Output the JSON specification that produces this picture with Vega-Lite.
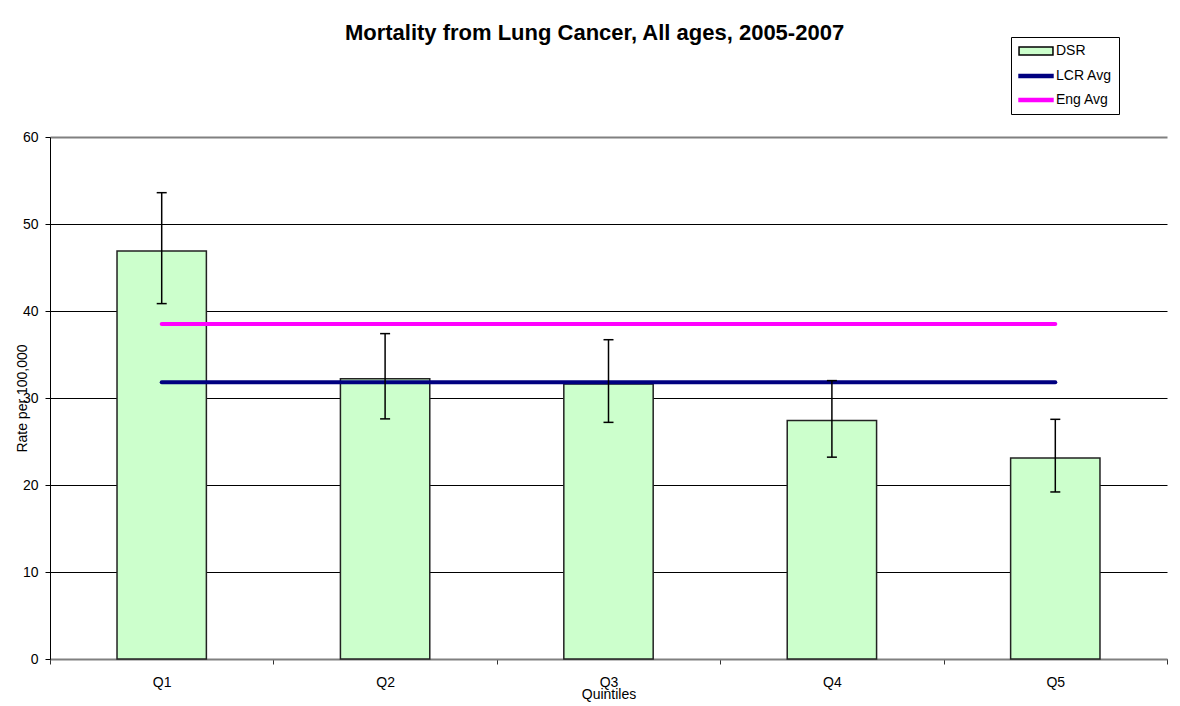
{
  "$schema": "https://vega.github.io/schema/vega-lite/v6.json",
  "width": 1117,
  "height": 522,
  "autosize": "none",
  "padding": {"left": 50, "top": 137, "right": 13, "bottom": 47},
  "background": "white",
  "title": {
    "text": "Mortality from Lung Cancer, All ages, 2005-2007",
    "font": "Liberation Sans",
    "fontSize": 22,
    "fontWeight": "bold",
    "color": "black",
    "anchor": "middle",
    "frame": "group",
    "dx": -14,
    "offset": 0,
    "dy": 25,
    "baseline": "alphabetic"
  },
  "data": {
    "values": [
      {"q": "Q1", "dsr": 46.9, "lo": 40.85, "hi": 53.6, "lcr": 31.8, "eng": 38.5},
      {"q": "Q2", "dsr": 32.2, "lo": 27.6, "hi": 37.4, "lcr": 31.8, "eng": 38.5},
      {"q": "Q3", "dsr": 31.6, "lo": 27.2, "hi": 36.7, "lcr": 31.8, "eng": 38.5},
      {"q": "Q4", "dsr": 27.4, "lo": 23.2, "hi": 32.0, "lcr": 31.8, "eng": 38.5},
      {"q": "Q5", "dsr": 23.1, "lo": 19.2, "hi": 27.55, "lcr": 31.8, "eng": 38.5}
    ]
  },
  "encoding": {
    "x": {
      "field": "q",
      "type": "nominal",
      "title": "Quintiles",
      "scale": {"paddingInner": 0, "paddingOuter": 0},
      "axis": {
        "labelAngle": 0,
        "grid": false,
        "ticks": true,
        "tickBand": "extent",
        "tickSize": 5,
        "tickColor": "#333333",
        "domainColor": "#808080",
        "domainWidth": 2,
        "labelPadding": 11,
        "titleY": 28,
        "titleBaseline": "top"
      }
    }
  },
  "layer": [
    {
      "mark": {"type": "bar", "stroke": "#222222", "strokeWidth": 1.5, "width": {"band": 0.4}},
      "encoding": {
        "y": {
          "field": "dsr",
          "type": "quantitative",
          "title": "Rate per 100,000",
          "scale": {"domain": [0, 60], "nice": false},
          "axis": {
            "values": [0, 10, 20, 30, 40, 50, 60],
            "grid": true,
            "gridColor": {"condition": {"test": "datum.value === 60", "value": "#808080"}, "value": "black"},
            "gridWidth": {"condition": {"test": "datum.value === 60", "value": 2}, "value": 1},
            "domainColor": "black",
            "tickColor": "black",
            "tickSize": 5,
            "labelPadding": 7,
            "titleX": -21,
            "titleY": 261
          }
        },
        "color": {
          "datum": "DSR",
          "scale": {"domain": ["DSR", "LCR Avg", "Eng Avg"], "range": ["#ccffcc", "#000080", "#ff00ff"]},
          "legend": {
            "orient": "none",
            "legendX": 961,
            "legendY": -100,
            "title": null,
            "strokeColor": "black",
            "fillColor": "white",
            "padding": 7,
            "labelFont": "Liberation Sans",
            "labelFontSize": 14,
            "labelColor": "black",
            "symbolSize": 128,
            "symbolOffset": 11,
            "labelOffset": 13,
            "rowPadding": 10,
            "symbolStrokeWidth": 1.5,
            "symbolType": {"expr": "datum.value === 'DSR' ? 'M-3,-0.72H3V0.72H-3Z' : 'M-3,-0.28H3V0.28H-3Z'"},
            "symbolStrokeColor": {"expr": "datum.value === 'DSR' ? 'black' : (datum.value === 'LCR Avg' ? '#000080' : '#ff00ff')"}
          }
        }
      }
    },
    {
      "mark": {"type": "line", "strokeWidth": 4, "strokeCap": "round", "color": "#000080"},
      "encoding": {
        "y": {"field": "lcr", "type": "quantitative", "title": "Rate per 100,000"}
      }
    },
    {
      "mark": {"type": "line", "strokeWidth": 4, "strokeCap": "round", "color": "#ff00ff"},
      "encoding": {
        "y": {"field": "eng", "type": "quantitative", "title": "Rate per 100,000"}
      }
    },
    {
      "mark": {"type": "rule", "color": "black", "strokeWidth": 1.5},
      "encoding": {
        "y": {"field": "lo", "type": "quantitative", "title": "Rate per 100,000"},
        "y2": {"field": "hi"}
      }
    },
    {
      "mark": {"type": "tick", "color": "black", "size": 10, "thickness": 1.5, "opacity": 1},
      "encoding": {
        "y": {"field": "lo", "type": "quantitative", "title": "Rate per 100,000"}
      }
    },
    {
      "mark": {"type": "tick", "color": "black", "size": 10, "thickness": 1.5, "opacity": 1},
      "encoding": {
        "y": {"field": "hi", "type": "quantitative", "title": "Rate per 100,000"}
      }
    }
  ],
  "config": {
    "view": {"stroke": null},
    "axis": {
      "labelFont": "Liberation Sans",
      "labelFontSize": 14,
      "labelColor": "black",
      "titleFont": "Liberation Sans",
      "titleFontSize": 14,
      "titleFontWeight": "normal",
      "titleColor": "black"
    }
  }
}
